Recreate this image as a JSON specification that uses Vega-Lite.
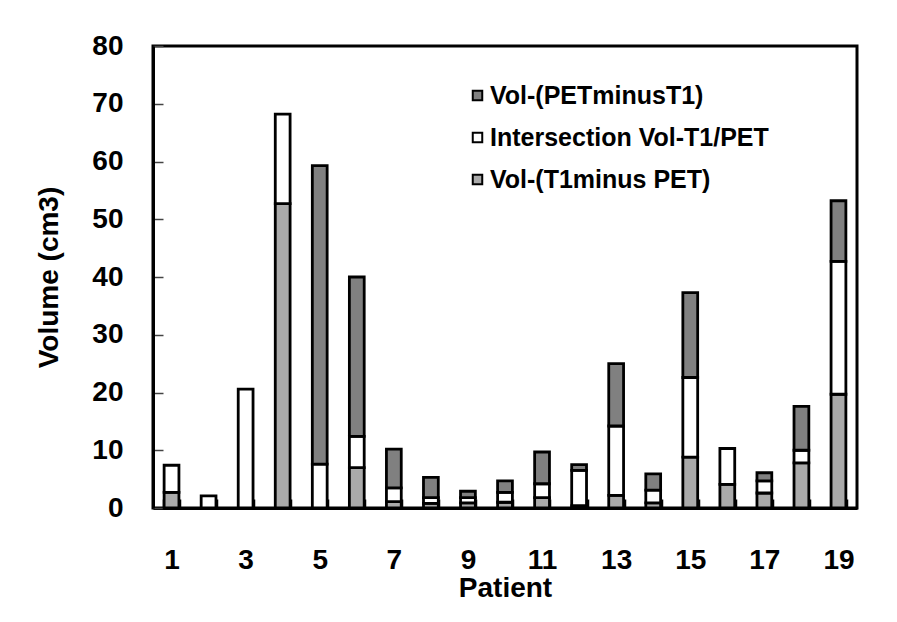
{
  "$schema": "https://vega.github.io/schema/vega-lite/v6.json",
  "width": 704,
  "height": 462,
  "autosize": "none",
  "padding": {"left": 153, "top": 46, "right": 40, "bottom": 114},
  "background": "white",
  "data": {
    "values": [
      {"patient": 1, "component": "Vol-(T1minus PET)", "k": 1, "volume": 2.7},
      {"patient": 1, "component": "Intersection Vol-T1/PET", "k": 2, "volume": 4.7},
      {"patient": 2, "component": "Intersection Vol-T1/PET", "k": 2, "volume": 2.1},
      {"patient": 3, "component": "Intersection Vol-T1/PET", "k": 2, "volume": 20.6},
      {"patient": 4, "component": "Vol-(T1minus PET)", "k": 1, "volume": 52.7},
      {"patient": 4, "component": "Intersection Vol-T1/PET", "k": 2, "volume": 15.5},
      {"patient": 5, "component": "Intersection Vol-T1/PET", "k": 2, "volume": 7.6},
      {"patient": 5, "component": "Vol-(PETminusT1)", "k": 3, "volume": 51.7},
      {"patient": 6, "component": "Vol-(T1minus PET)", "k": 1, "volume": 7.0},
      {"patient": 6, "component": "Intersection Vol-T1/PET", "k": 2, "volume": 5.4},
      {"patient": 6, "component": "Vol-(PETminusT1)", "k": 3, "volume": 27.6},
      {"patient": 7, "component": "Vol-(T1minus PET)", "k": 1, "volume": 1.1},
      {"patient": 7, "component": "Intersection Vol-T1/PET", "k": 2, "volume": 2.4},
      {"patient": 7, "component": "Vol-(PETminusT1)", "k": 3, "volume": 6.7},
      {"patient": 8, "component": "Vol-(T1minus PET)", "k": 1, "volume": 0.8},
      {"patient": 8, "component": "Intersection Vol-T1/PET", "k": 2, "volume": 1.0},
      {"patient": 8, "component": "Vol-(PETminusT1)", "k": 3, "volume": 3.5},
      {"patient": 9, "component": "Vol-(T1minus PET)", "k": 1, "volume": 0.9},
      {"patient": 9, "component": "Intersection Vol-T1/PET", "k": 2, "volume": 0.9},
      {"patient": 9, "component": "Vol-(PETminusT1)", "k": 3, "volume": 1.1},
      {"patient": 10, "component": "Vol-(T1minus PET)", "k": 1, "volume": 1.0},
      {"patient": 10, "component": "Intersection Vol-T1/PET", "k": 2, "volume": 1.7},
      {"patient": 10, "component": "Vol-(PETminusT1)", "k": 3, "volume": 2.0},
      {"patient": 11, "component": "Vol-(T1minus PET)", "k": 1, "volume": 1.8},
      {"patient": 11, "component": "Intersection Vol-T1/PET", "k": 2, "volume": 2.4},
      {"patient": 11, "component": "Vol-(PETminusT1)", "k": 3, "volume": 5.5},
      {"patient": 12, "component": "Vol-(T1minus PET)", "k": 1, "volume": 0.4},
      {"patient": 12, "component": "Intersection Vol-T1/PET", "k": 2, "volume": 6.1},
      {"patient": 12, "component": "Vol-(PETminusT1)", "k": 3, "volume": 1.0},
      {"patient": 13, "component": "Vol-(T1minus PET)", "k": 1, "volume": 2.2},
      {"patient": 13, "component": "Intersection Vol-T1/PET", "k": 2, "volume": 12.0},
      {"patient": 13, "component": "Vol-(PETminusT1)", "k": 3, "volume": 10.8},
      {"patient": 14, "component": "Vol-(T1minus PET)", "k": 1, "volume": 0.9},
      {"patient": 14, "component": "Intersection Vol-T1/PET", "k": 2, "volume": 2.2},
      {"patient": 14, "component": "Vol-(PETminusT1)", "k": 3, "volume": 2.8},
      {"patient": 15, "component": "Vol-(T1minus PET)", "k": 1, "volume": 8.8},
      {"patient": 15, "component": "Intersection Vol-T1/PET", "k": 2, "volume": 13.8},
      {"patient": 15, "component": "Vol-(PETminusT1)", "k": 3, "volume": 14.7},
      {"patient": 16, "component": "Vol-(T1minus PET)", "k": 1, "volume": 4.1},
      {"patient": 16, "component": "Intersection Vol-T1/PET", "k": 2, "volume": 6.2},
      {"patient": 17, "component": "Vol-(T1minus PET)", "k": 1, "volume": 2.6},
      {"patient": 17, "component": "Intersection Vol-T1/PET", "k": 2, "volume": 2.1},
      {"patient": 17, "component": "Vol-(PETminusT1)", "k": 3, "volume": 1.4},
      {"patient": 18, "component": "Vol-(T1minus PET)", "k": 1, "volume": 7.8},
      {"patient": 18, "component": "Intersection Vol-T1/PET", "k": 2, "volume": 2.2},
      {"patient": 18, "component": "Vol-(PETminusT1)", "k": 3, "volume": 7.6},
      {"patient": 19, "component": "Vol-(T1minus PET)", "k": 1, "volume": 19.7},
      {"patient": 19, "component": "Intersection Vol-T1/PET", "k": 2, "volume": 23.0},
      {"patient": 19, "component": "Vol-(PETminusT1)", "k": 3, "volume": 10.5}
    ]
  },
  "mark": {"type": "bar", "stroke": "black", "strokeWidth": 2.8},
  "encoding": {
    "x": {
      "field": "patient",
      "type": "ordinal",
      "scale": {"paddingInner": 0.6, "paddingOuter": 0.3},
      "axis": {
        "title": "Patient",
        "labelAngle": 0,
        "labelExpr": "datum.value % 2 == 1 ? datum.label : ''",
        "tickBand": "extent",
        "tickSize": -9,
        "tickWidth": 3.5,
        "tickColor": "black",
        "labelPadding": 47,
        "titlePadding": 0
      }
    },
    "y": {
      "field": "volume",
      "type": "quantitative",
      "stack": "zero",
      "scale": {"domain": [0, 80], "nice": false},
      "axis": {
        "title": "Volume (cm3)",
        "values": [0, 10, 20, 30, 40, 50, 60, 70, 80],
        "tickSize": -10,
        "tickWidth": 1.5,
        "tickColor": "#444444",
        "labelPadding": 40,
        "titlePadding": 28,
        "grid": false
      }
    },
    "color": {
      "field": "component",
      "type": "nominal",
      "scale": {
        "domain": ["Vol-(PETminusT1)", "Intersection Vol-T1/PET", "Vol-(T1minus PET)"],
        "range": ["#808080", "#ffffff", "#aaaaaa"]
      },
      "legend": {
        "title": null,
        "orient": "none",
        "legendX": 312,
        "legendY": 37,
        "symbolType": "square",
        "symbolSize": 90,
        "symbolStrokeColor": "black",
        "symbolStrokeWidth": 2,
        "labelFont": "Liberation Sans",
        "labelFontSize": 25,
        "labelFontWeight": "bold",
        "labelColor": "black",
        "labelOffset": 0,
        "rowPadding": 16,
        "labelLimit": 400
      }
    },
    "order": {"field": "k", "type": "quantitative"}
  },
  "config": {
    "font": "Liberation Sans",
    "view": {"stroke": "black", "strokeWidth": 3},
    "axis": {
      "domainColor": "black",
      "domainWidth": 3,
      "labelFont": "Liberation Sans",
      "labelFontSize": 28,
      "labelFontWeight": "bold",
      "labelColor": "black",
      "titleFont": "Liberation Sans",
      "titleFontSize": 28,
      "titleFontWeight": "bold",
      "titleColor": "black"
    }
  }
}
